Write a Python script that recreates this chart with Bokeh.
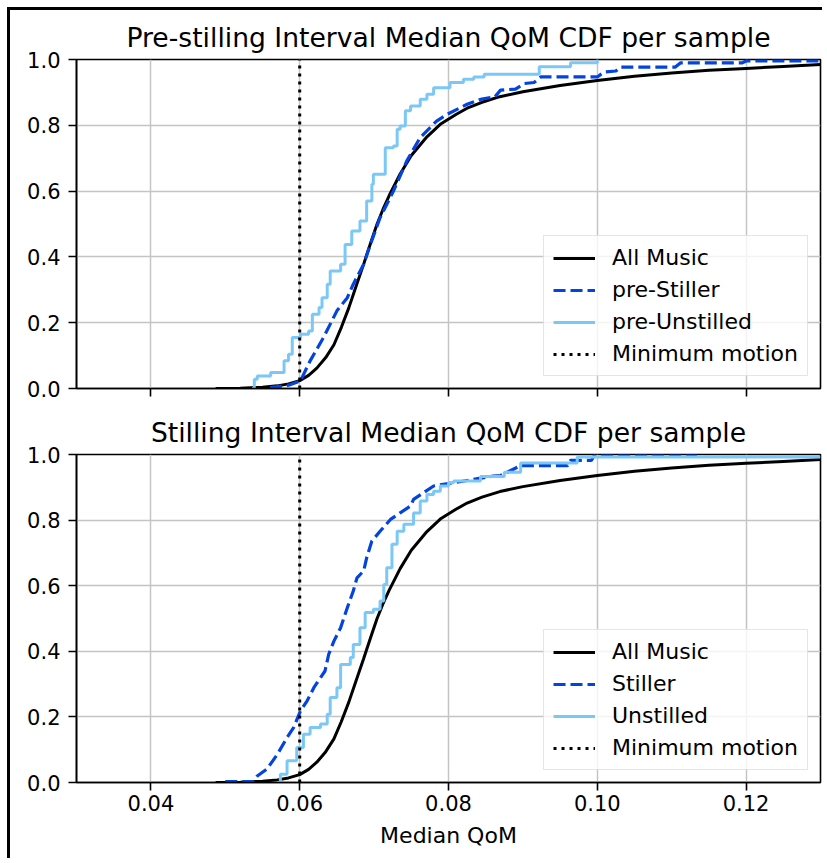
from bokeh.plotting import figure
from bokeh.models import Range1d, FixedTicker, PrintfTickFormatter, Legend, LegendItem
from bokeh.layouts import column
from bokeh.embed import file_html
from bokeh.resources import INLINE

# ---------------- data ----------------
x_ticks = [0.04, 0.06, 0.08, 0.10, 0.12]
y_ticks = [0.0, 0.2, 0.4, 0.6, 0.8, 1.0]
min_motion = 0.06

all_music_x = [0.0487, 0.0520, 0.0550, 0.0570, 0.0585, 0.0600, 0.0612, 0.0623, 0.0635,
               0.0646, 0.0656, 0.0666, 0.0676, 0.0686, 0.0695, 0.0704, 0.0712, 0.0720,
               0.0735, 0.0750, 0.0771, 0.0790, 0.0810, 0.0825, 0.0845, 0.0869, 0.0900,
               0.0950, 0.1000, 0.1050, 0.1100, 0.1150, 0.1200, 0.1250, 0.1300]
all_music_y = [0.000, 0.001, 0.004, 0.008, 0.014, 0.024, 0.040, 0.062, 0.094,
               0.133, 0.186, 0.245, 0.312, 0.378, 0.440, 0.500, 0.545, 0.585,
               0.652, 0.708, 0.765, 0.805, 0.833, 0.852, 0.870, 0.887, 0.902,
               0.921, 0.936, 0.949, 0.959, 0.967, 0.973, 0.979, 0.985]

pre_stiller_x = [0.0560, 0.0585, 0.0601, 0.0614, 0.0632, 0.0650, 0.0664, 0.0672, 0.0686,
                 0.0695, 0.0708, 0.0726, 0.0744, 0.0762, 0.0784, 0.0798, 0.0825, 0.0845,
                 0.0862, 0.0870, 0.0890, 0.0902, 0.0915, 0.0924, 0.1000, 0.1009, 0.1025,
                 0.1031, 0.1105, 0.1112, 0.1195, 0.1201, 0.1300]
pre_stiller_y = [0.003, 0.010, 0.023, 0.084, 0.155, 0.236, 0.276, 0.317, 0.378,
                 0.438, 0.519, 0.600, 0.692, 0.763, 0.813, 0.833, 0.864, 0.880,
                 0.886, 0.907, 0.910, 0.927, 0.930, 0.947, 0.947, 0.962, 0.965,
                 0.977, 0.977, 0.990, 0.990, 0.996, 0.996]

pre_unstilled_x = [0.0536, 0.0539, 0.0543, 0.0561, 0.0579, 0.0585, 0.0590, 0.0601, 0.0612,
                   0.0617, 0.0626, 0.0630, 0.0637, 0.0641, 0.0655, 0.0661, 0.0670, 0.0681,
                   0.0690, 0.0697, 0.0699, 0.0715, 0.0726, 0.0731, 0.0735, 0.0742, 0.0749,
                   0.0762, 0.0771, 0.0780, 0.0802, 0.0820, 0.0834, 0.0848, 0.0922, 0.0964, 0.1000]
pre_unstilled_y = [0.000, 0.028, 0.038, 0.049, 0.084, 0.104, 0.155, 0.165, 0.175,
                   0.226, 0.246, 0.276, 0.317, 0.357, 0.378, 0.438, 0.479, 0.509,
                   0.570, 0.621, 0.651, 0.732, 0.737, 0.788, 0.798, 0.844, 0.859,
                   0.879, 0.894, 0.914, 0.930, 0.940, 0.947, 0.955, 0.978, 0.990, 1.000]

stiller_x = [0.0500, 0.0538, 0.0543, 0.0556, 0.0570, 0.0583, 0.0592, 0.0601, 0.0610,
             0.0619, 0.0628, 0.0634, 0.0639, 0.0646, 0.0655, 0.0664, 0.0672, 0.0677,
             0.0686, 0.0690, 0.0697, 0.0708, 0.0722, 0.0735, 0.0749, 0.0753, 0.0766,
             0.0780, 0.0807, 0.0860, 0.0870, 0.0879, 0.0897, 0.0960, 0.0964, 0.0992,
             0.0996, 0.1134]
stiller_y = [0.003, 0.003, 0.020, 0.041, 0.086, 0.137, 0.168, 0.218, 0.249,
             0.289, 0.320, 0.340, 0.391, 0.431, 0.472, 0.533, 0.584, 0.624,
             0.645, 0.685, 0.736, 0.766, 0.802, 0.822, 0.843, 0.863, 0.883,
             0.904, 0.914, 0.934, 0.936, 0.946, 0.966, 0.966, 0.982, 0.982,
             0.997, 0.997]

unstilled_x = [0.0570, 0.0574, 0.0583, 0.0596, 0.0605, 0.0614, 0.0628, 0.0637, 0.0641,
               0.0650, 0.0655, 0.0668, 0.0672, 0.0681, 0.0688, 0.0699, 0.0708, 0.0713,
               0.0717, 0.0724, 0.0731, 0.0740, 0.0753, 0.0762, 0.0771, 0.0780, 0.0789,
               0.0800, 0.0807, 0.0843, 0.0875, 0.0897, 0.0973, 0.1300]
unstilled_y = [0.000, 0.025, 0.066, 0.107, 0.147, 0.168, 0.178, 0.208, 0.259,
               0.289, 0.360, 0.381, 0.421, 0.472, 0.518, 0.528, 0.553, 0.604,
               0.655, 0.726, 0.766, 0.787, 0.822, 0.858, 0.878, 0.888, 0.904,
               0.914, 0.919, 0.933, 0.946, 0.974, 0.992, 0.992]

# ---------------- styling ----------------
FONT = "DejaVu Sans"
BLACK = "#000000"
BLUE = "#0343df"
LIGHT = "#7bc8f6"
GRID = "#c4c4c4"


def make_fig(title, height, mb_top, mb_bottom, show_xlabels, labels, s_x, s_y, u_x, u_y):
    p = figure(width=812, height=height,
               x_range=Range1d(0.03, 0.13), y_range=Range1d(0, 1),
               output_backend="svg", toolbar_location=None,
               min_border_left=66, min_border_right=2,
               min_border_top=mb_top, min_border_bottom=mb_bottom)
    p.title.text = title
    p.title.text_font = FONT
    p.title.text_font_size = "26.6px"
    p.title.text_font_style = "normal"
    p.title.text_color = BLACK
    p.title.align = "center"
    p.title.standoff = 13

    p.outline_line_color = BLACK
    p.outline_line_width = 1.6
    p.outline_line_alpha = 1.0

    for ax in (p.xaxis[0], p.yaxis[0]):
        ax.axis_line_color = BLACK
        ax.axis_line_width = 1.6
        ax.major_tick_line_color = BLACK
        ax.major_tick_line_width = 1.6
        ax.major_tick_out = 8
        ax.major_tick_in = 0
        ax.minor_tick_line_color = None
        ax.major_label_text_font = FONT
        ax.major_label_text_font_size = "21px"
        ax.major_label_text_color = BLACK
        ax.major_label_standoff = 8

    p.xaxis.ticker = FixedTicker(ticks=x_ticks)
    p.yaxis.ticker = FixedTicker(ticks=y_ticks)
    p.yaxis.formatter = PrintfTickFormatter(format="%.1f")
    p.xaxis.formatter = PrintfTickFormatter(format="%.2f")
    if not show_xlabels:
        p.xaxis.major_label_text_color = None
        p.xaxis.major_label_standoff = 0
    else:
        p.xaxis.major_label_standoff = 4
        p.xaxis.axis_label = "Median QoM"
        p.xaxis.axis_label_text_font = FONT
        p.xaxis.axis_label_text_font_size = "22px"
        p.xaxis.axis_label_text_font_style = "normal"
        p.xaxis.axis_label_text_color = BLACK
        p.xaxis.axis_label_standoff = 9

    p.xgrid.ticker = FixedTicker(ticks=x_ticks)
    p.ygrid.ticker = FixedTicker(ticks=y_ticks)
    for g in (p.xgrid[0], p.ygrid[0]):
        g.grid_line_color = GRID
        g.grid_line_width = 1.5

    r_all = p.line(all_music_x, all_music_y, line_color=BLACK, line_width=3)
    r_s = p.line(s_x, s_y, line_color=BLUE, line_width=3.2, line_dash="12 5")
    r_u = p.step(u_x, u_y, line_color=LIGHT, line_width=3, mode="after")
    r_m = p.line([min_motion, min_motion], [y_ticks[0], y_ticks[-1]],
                 line_color=BLACK, line_width=3, line_dash="3 5")

    legend = Legend(items=[LegendItem(label=labels[0], renderers=[r_all]),
                           LegendItem(label=labels[1], renderers=[r_s]),
                           LegendItem(label=labels[2], renderers=[r_u]),
                           LegendItem(label=labels[3], renderers=[r_m])],
                    location="bottom_right")
    legend.margin = 12
    legend.padding = 9
    legend.spacing = 7
    legend.glyph_width = 42
    legend.glyph_height = 22
    legend.label_height = 22
    legend.label_standoff = 17
    legend.label_text_font = FONT
    legend.label_text_font_size = "22px"
    legend.label_text_color = BLACK
    legend.border_line_color = "#cccccc"
    legend.border_line_width = 1.5
    legend.background_fill_alpha = 0.8
    p.add_layout(legend)
    return p


p1 = make_fig("Pre-stilling Interval Median QoM CDF per sample", 393, 49, 15, False,
              ["All Music", "pre-Stiller", "pre-Unstilled", "Minimum motion"],
              pre_stiller_x, pre_stiller_y, pre_unstilled_x, pre_unstilled_y)
p2 = make_fig("Stilling Interval Median QoM CDF per sample", 455, 51, 76, True,
              ["All Music", "Stiller", "Unstilled", "Minimum motion"],
              stiller_x, stiller_y, unstilled_x, unstilled_y)

layout = column(p1, p2, styles={"margin-left": "7px", "margin-top": "7px",
                                "border-left": "3px solid black",
                                "border-top": "3px solid black"})

open("out.html", "w").write(file_html(layout, INLINE))
